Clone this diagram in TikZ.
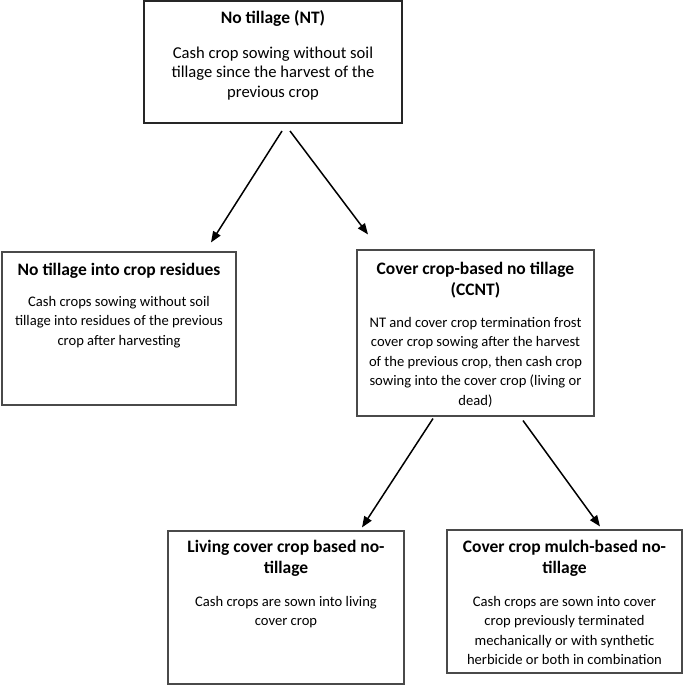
\documentclass[tikz,border=0pt]{standalone}
\usepackage{fontspec}
\setmainfont{Carlito}
\usetikzlibrary{arrows.meta,calc}
\definecolor{boxline}{HTML}{4A4A4A}
\tikzset{
  box/.style={draw=boxline, line width=1.1pt, fill=white, inner sep=0pt},
  topbox/.style={draw=black!85, line width=2pt, inner sep=0pt},
  ttl/.style={anchor=north, inner sep=0pt, align=center, font=\fontsize{17.5}{21}\selectfont\bfseries},
  body/.style={anchor=north, inner sep=0pt, align=center, font=\fontsize{14.6}{19.5}\selectfont},
  bigbody/.style={body, font=\fontsize{16.6}{19.5}\selectfont},
  conn/.style={line width=1.5pt, -{Triangle[length=11pt,width=8.5pt]}}
}
\begin{document}
\begin{tikzpicture}[x=1pt,y=-1pt]
\useasboundingbox (0,0) rectangle (685,685);
% boxes
\node[topbox, minimum width=258pt, minimum height=122pt] (nt) at (273,62) {};
\node[box, minimum width=234pt, minimum height=153pt] (res) at (119,328.5) {};
\node[box, minimum width=237pt, minimum height=166pt] (ccnt) at (475.5,333) {};
\node[box, minimum width=236pt, minimum height=153pt] (liv) at (286,607.5) {};
\node[box, minimum width=235pt, minimum height=143pt] (mul) at (564.5,601.5) {};
% texts (strut height = 0.7 baselineskip)
\node[ttl] (ntT) at (273,{23-14.7}) {\strut No tillage (NT)};
\node[bigbody] (ntB) at (273,{58-13.65}) {\strut Cash crop sowing without soil\\tillage since the harvest of the\\previous crop};
\node[ttl] (resT) at (119,{275-14.7}) {\strut No tillage into crop residues};
\node[body] (resB) at (119,{306-13.65}) {\strut Cash crops sowing without soil\\tillage into residues of the previous\\crop after harvesting};
\node[ttl] (ccntT) at (475.5,{274-14.7}) {\strut Cover crop-based no tillage\\(CCNT)};
\node[body] (ccntB) at (475.5,{327-13.65}) {\strut NT and cover crop termination frost\\cover crop sowing after the harvest\\of the previous crop, then cash crop\\sowing into the cover crop (living or\\dead)};
\node[ttl] (livT) at (286,{552-14.7}) {\strut Living cover crop based no-\\tillage};
\node[body] (livB) at (286,{606-13.65}) {\strut Cash crops are sown into living\\cover crop};
\node[ttl] (mulT) at (564.5,{552-14.7}) {\strut Cover crop mulch-based no-\\tillage};
\node[body] (mulB) at (564.5,{606-13.65}) {\strut Cash crops are sown into cover\\crop previously terminated\\mechanically or with synthetic\\herbicide or both in combination};
% connector end points
\coordinate (a1s) at ($(nt.south)+(9,7)$);
\coordinate (a1e) at ($(res.north)+(92,-9)$);
\coordinate (a2s) at ($(nt.south)+(17,7)$);
\coordinate (a2e) at ($(ccnt.north)+(-107.5,-15)$);
\coordinate (a3s) at ($(ccnt.south)+(-42.5,2)$);
\coordinate (a3e) at ($(liv.north)+(76,-3)$);
\coordinate (a4s) at ($(ccnt.south)+(47.5,4)$);
\coordinate (a4e) at ($(mul.north)+(35.5,-3)$);
\draw[conn] (a1s) -- (a1e);
\draw[conn] (a2s) -- (a2e);
\draw[conn] (a3s) -- (a3e);
\draw[conn] (a4s) -- (a4e);
\end{tikzpicture}
\end{document}
